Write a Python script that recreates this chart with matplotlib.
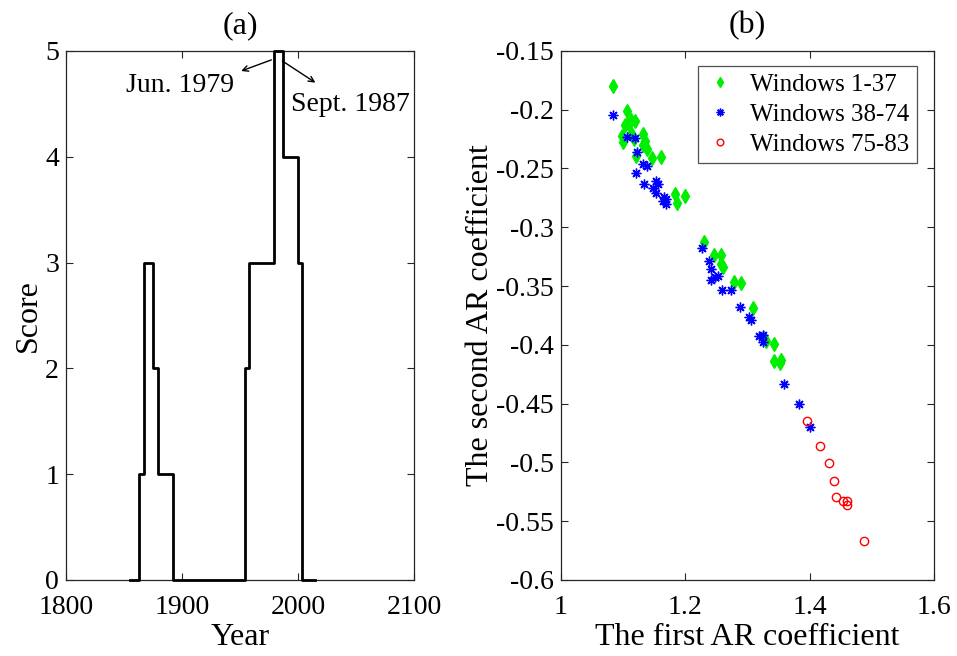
import matplotlib
matplotlib.use('Agg')
import matplotlib.pyplot as plt
import numpy as np

plt.rcParams['font.family'] = ['Liberation Serif', 'DejaVu Serif']
plt.rcParams['axes.unicode_minus'] = False
plt.rcParams['mathtext.default'] = 'regular'

# (a) score step curve
step_years = [1855, 1863, 1867, 1875, 1879, 1892, 1954, 1958, 1979.0, 1987.3, 2000, 2003.5, 2015]
step_scores = [0, 1, 3, 2, 1, 0, 2, 3, 5, 4, 3, 0, 0]

# (b) AR coefficients per window group
g_x = [1.0837, 1.1072, 1.1126, 1.1195, 1.1088, 1.1039, 1.0986, 1.1007, 1.1131, 1.1179,
       1.1319, 1.1356, 1.1319, 1.1384, 1.1464, 1.1614, 1.1212, 1.1839, 1.1989, 1.1860,
       1.2294, 1.2467, 1.2579, 1.2579, 1.2600, 1.2777, 1.2890, 1.3089, 1.3271, 1.3303,
       1.3421, 1.3432, 1.3540, 1.3529]
g_y = [-0.1798, -0.2008, -0.2087, -0.2093, -0.2110, -0.2132, -0.2223, -0.2271, -0.2195, -0.2251,
       -0.2206, -0.2263, -0.2299, -0.2333, -0.2412, -0.2404, -0.2390, -0.2719, -0.2733, -0.2790,
       -0.3122, -0.3235, -0.3235, -0.3311, -0.3339, -0.3467, -0.3475, -0.3683, -0.3943, -0.3966,
       -0.3994, -0.4134, -0.4128, -0.4153]
b_x = [1.0846, 1.1072, 1.1195, 1.1228, 1.1212, 1.1329, 1.1384, 1.1345, 1.1480, 1.1533,
       1.1561, 1.1533, 1.1667, 1.1694, 1.1635, 1.1694,
       1.2269, 1.2375, 1.2418, 1.2414, 1.2471, 1.2520, 1.2599, 1.2735, 1.2888, 1.3018,
       1.3062, 1.3194, 1.3250, 1.3247, 1.3593, 1.3823, 1.4011]
b_y = [-0.2044, -0.2234, -0.2242, -0.2361, -0.2535, -0.2463, -0.2478, -0.2633, -0.2668, -0.2605,
       -0.2635, -0.2710, -0.2739, -0.2761, -0.2781, -0.2804,
       -0.3178, -0.3286, -0.3356, -0.3447, -0.3424, -0.3413, -0.3538, -0.3530, -0.3679, -0.3764,
       -0.3788, -0.3923, -0.3917, -0.3979, -0.4336, -0.4502, -0.4700]
r_x = [1.3963, 1.4167, 1.4306, 1.4397, 1.4430, 1.4537, 1.4602, 1.4602, 1.4869]
r_y = [-0.4649, -0.4865, -0.5003, -0.5159, -0.5298, -0.5332, -0.5332, -0.5366, -0.5673]

fig = plt.figure(figsize=(9.57, 6.56), dpi=100)
ax1 = fig.add_axes([0.069, 0.116, 0.3636, 0.8064])
ax2 = fig.add_axes([0.586, 0.116, 0.390, 0.8064])

edge = '#262626'
for ax in (ax1, ax2):
    for s in ax.spines.values():
        s.set_color(edge)
        s.set_linewidth(0.9)
    ax.tick_params(direction='in', top=True, right=True, length=5, width=0.8,
                   color=edge, labelsize=20)
    ax.tick_params(axis='x', pad=11)
    ax.tick_params(axis='y', pad=5)

# panel (a)
ax1.step(step_years, step_scores, where='post', color='black', lw=2, clip_on=False, zorder=3)
ax1.set_xlim(1800, 2100)
ax1.set_ylim(0, 5)
ax1.set_xticks([1800, 1900, 2000, 2100])
ax1.set_yticks([0, 1, 2, 3, 4, 5])
ax1.set_xlabel('Year', fontsize=23, labelpad=2)
ax1.set_ylabel('Score', fontsize=23, labelpad=2)
ax1.set_title('(a)', fontsize=23, pad=13)

ax1.text(1898.7, 4.67, 'Jun. 1979', fontsize=20, ha='center', va='center')
ax1.text(2045, 4.49, 'Sept. 1987', fontsize=20, ha='center', va='center')
ax1.annotate('', xy=(1951, 4.81), xytext=(1977, 4.915),
             arrowprops=dict(arrowstyle='->', lw=1, color='black', shrinkA=0, shrinkB=0))
ax1.annotate('', xy=(2015, 4.70), xytext=(1986.5, 4.905),
             arrowprops=dict(arrowstyle='->', lw=1, color='black', shrinkA=0, shrinkB=0))

# panel (b)
ax2.plot(g_x, g_y, linestyle='none', marker='d', markersize=7, color='#00ee00',
         markeredgecolor='#00ee00', label='Windows 1-37')
ax2.plot(b_x, b_y, linestyle='none', marker=(8, 2, 0), markersize=7, color='blue',
         markeredgewidth=1, label='Windows 38-74')
ax2.plot(r_x, r_y, linestyle='none', marker='o', markersize=6, markerfacecolor='none',
         markeredgecolor='red', markeredgewidth=1, label='Windows 75-83')
ax2.set_xlim(1, 1.6)
ax2.set_ylim(-0.6, -0.15)
ax2.set_xticks([1, 1.2, 1.4, 1.6])
ax2.set_xticklabels(['1', '1.2', '1.4', '1.6'])
yt = np.round(np.arange(-0.6, -0.149, 0.05), 2)
ax2.set_yticks(yt)
ax2.set_yticklabels(['%g' % v for v in yt])
ax2.set_xlabel('The first AR coefficient', fontsize=23, labelpad=2)
ax2.set_ylabel('The second AR coefficient', fontsize=23, labelpad=1)
ax2.set_title('(b)', fontsize=23, pad=13)
leg = ax2.legend(loc='upper right', fontsize=18, frameon=True, fancybox=False,
                 edgecolor=edge, borderpad=0.3, labelspacing=0.3, handlelength=1.2,
                 handletextpad=0.6, borderaxespad=0, bbox_to_anchor=(0.954, 0.972),
                 markerscale=0.8)
leg.get_frame().set_linewidth(0.9)

fig.savefig('out.png', dpi=100)
